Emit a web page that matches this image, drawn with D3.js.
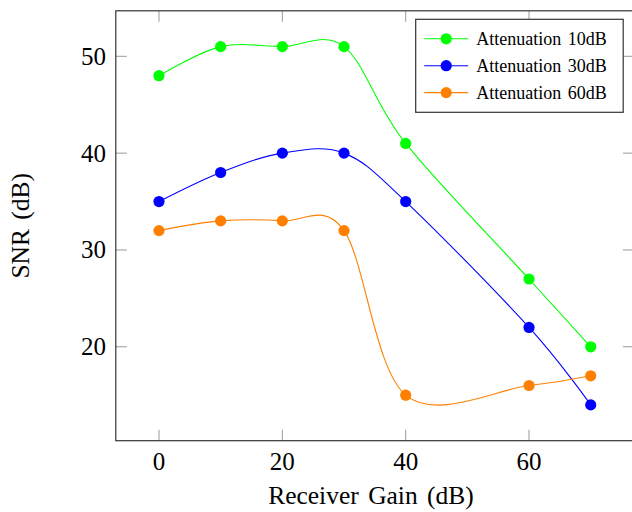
<!DOCTYPE html>
<html>
<head>
<meta charset="utf-8">
<script src="https://cdn.jsdelivr.net/npm/d3@7"></script>
<style>
  body { margin: 0; background: #fff; }
  text { font-family: "Liberation Serif", "Times New Roman", serif; fill: #000; }
</style>
</head>
<body>
<div id="chart"></div>
<script>
// data
var gains = [0, 10, 20, 30, 40, 60, 70];
var att10 = [48, 51, 51, 51, 41, 27, 20];
var att30 = [35, 38, 40, 40, 35, 22, 14];
var att60 = [32, 33, 33, 32, 15, 16, 17];
var seriesNames = ["Attenuation 10dB", "Attenuation 30dB", "Attenuation 60dB"];
var seriesColors = ["#00ff00", "#0000ff", "#ff8000"];
var xTicks = [0, 20, 40, 60];
var yTicks = [20, 30, 40, 50];

var W = 632, H = 512;

var svg = d3.select("#chart")
    .append("svg")
    .attr("width", W)
    .attr("height", H);

// pgfplots style: 10% enlarged limits
var x = d3.scaleLinear().domain([-7, 77]).range([115.8, 633.9]);
var y = d3.scaleLinear().domain([10.3, 54.7]).range([440.7, 10.8]);

var x0 = x.range()[0], x1 = x.range()[1];
var y0 = y.range()[0], y1 = y.range()[1];

// ticks (grey, inside, mirrored)
var tickLen = 11;
var ticks = svg.append("g").attr("stroke", "#999").attr("stroke-width", 1);
xTicks.forEach(function (t) {
    ticks.append("line").attr("x1", x(t)).attr("x2", x(t)).attr("y1", y0).attr("y2", y0 - tickLen);
    ticks.append("line").attr("x1", x(t)).attr("x2", x(t)).attr("y1", y1).attr("y2", y1 + tickLen);
});
yTicks.forEach(function (t) {
    ticks.append("line").attr("x1", x0).attr("x2", x0 + tickLen).attr("y1", y(t)).attr("y2", y(t));
    ticks.append("line").attr("x1", x1).attr("x2", x1 - tickLen).attr("y1", y(t)).attr("y2", y(t));
});

// tick labels
svg.append("g").selectAll("text")
    .data(xTicks)
    .enter().append("text")
    .attr("x", function (d) { return x(d); })
    .attr("y", 470)
    .attr("text-anchor", "middle")
    .style("font-size", "25px")
    .text(function (d) { return d; });

svg.append("g").selectAll("text")
    .data(yTicks)
    .enter().append("text")
    .attr("x", 106)
    .attr("y", function (d) { return y(d) + 8.5; })
    .attr("text-anchor", "end")
    .style("font-size", "25px")
    .text(function (d) { return d; });

// axis labels
svg.append("text")
    .attr("x", 371)
    .attr("y", 504)
    .attr("text-anchor", "middle")
    .style("font-size", "25.5px")
    .style("word-spacing", "3px")
    .text("Receiver Gain (dB)");

svg.append("text")
    .attr("transform", "translate(29," + ((y0 + y1) / 2) + ") rotate(-90)")
    .attr("text-anchor", "middle")
    .style("font-size", "25.5px")
    .style("word-spacing", "3px")
    .text("SNR (dB)");

// series
var allSeries = [att10, att30, att60];
var line = d3.line()
    .x(function (d) { return x(d[0]); })
    .y(function (d) { return y(d[1]); })
    .curve(d3.curveCardinal.tension(0));

allSeries.forEach(function (vals, i) {
    var pts = gains.map(function (g, j) { return [g, vals[j]]; });
    var g = svg.append("g");
    g.append("path")
        .datum(pts)
        .attr("d", line)
        .attr("fill", "none")
        .attr("stroke", seriesColors[i])
        .attr("stroke-width", 1.1);
    g.selectAll("circle")
        .data(pts)
        .enter().append("circle")
        .attr("cx", function (d) { return x(d[0]); })
        .attr("cy", function (d) { return y(d[1]); })
        .attr("r", 5.6)
        .attr("fill", seriesColors[i]);
});

// frame
svg.append("rect")
    .attr("x", x0).attr("y", y1)
    .attr("width", x1 - x0).attr("height", y0 - y1)
    .attr("fill", "none")
    .attr("stroke", "#333")
    .attr("stroke-width", 1.2);

// legend
var legend = svg.append("g").attr("transform", "translate(415.7,19.3)");
legend.append("rect")
    .attr("width", 207.5).attr("height", 93)
    .attr("fill", "#fff")
    .attr("stroke", "#333")
    .attr("stroke-width", 1.2);

var items = legend.selectAll(".item")
    .data(seriesNames)
    .enter().append("g")
    .attr("class", "item")
    .attr("transform", function (d, i) { return "translate(0," + (19.5 + i * 26.9) + ")"; });

items.append("line")
    .attr("x1", 8.5).attr("x2", 52.5)
    .attr("stroke", function (d, i) { return seriesColors[i]; })
    .attr("stroke-width", 1.1);
items.append("circle")
    .attr("cx", 30.5).attr("r", 5.6)
    .attr("fill", function (d, i) { return seriesColors[i]; });
items.append("text")
    .attr("x", 60.5)
    .attr("y", 6)
    .style("font-size", "18px")
    .style("word-spacing", "2px")
    .text(function (d) { return d; });
</script>
</body>
</html>
